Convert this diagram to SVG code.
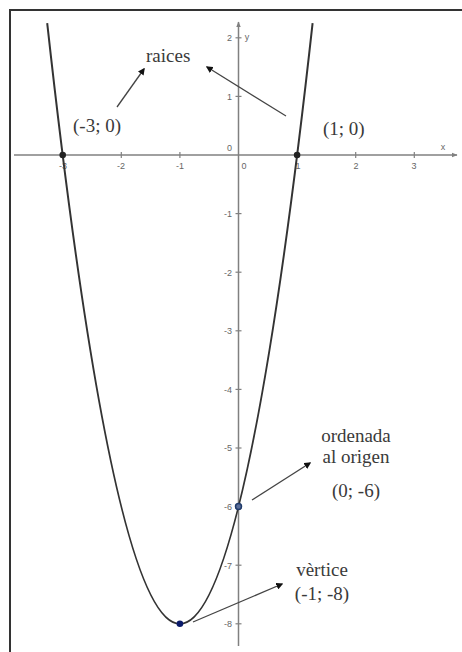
<svg xmlns="http://www.w3.org/2000/svg" width="462" height="652" viewBox="0 0 462 652">
<defs>
<style>
.frame{fill:none;stroke:#333;stroke-width:2}
.axis{stroke:#808080;stroke-width:1.5;fill:none}
.tick{stroke:#808080;stroke-width:1.2}
.tl{font-family:"Liberation Sans",Arial,sans-serif;font-size:9px;fill:#666}
.lbl{font-family:'Liberation Serif','Times New Roman','DejaVu Serif',serif;font-size:19px;fill:#3a3a3a}
.curve{fill:none;stroke:#333;stroke-width:2}
.conn{stroke:#444;stroke-width:1.3;fill:none;marker-end:url(#ah)}
</style>
<marker id="ah" viewBox="0 0 10 10" refX="8" refY="5" markerWidth="7" markerHeight="7" markerUnits="userSpaceOnUse" orient="auto">
<path d="M0,0 L10,5 L0,10 z" fill="#111"/>
</marker>
<marker id="axh" viewBox="0 0 10 10" refX="9" refY="5" markerWidth="6" markerHeight="6" markerUnits="userSpaceOnUse" orient="auto">
<path d="M0,1 L10,5 L0,9 z" fill="#808080"/>
</marker>
</defs>
<rect width="462" height="652" fill="#fff"/>
<path class="frame" d="M10,652 L10,10 L462,10"/>
<g id="axes">
<line class="axis" x1="14" y1="155" x2="457" y2="155" marker-end="url(#axh)"/>
<line class="axis" x1="238.5" y1="646" x2="238.5" y2="22" marker-end="url(#axh)"/>
<g class="tick">
<line x1="62.7" y1="152" x2="62.7" y2="158"/>
<line x1="121.3" y1="152" x2="121.3" y2="158"/>
<line x1="179.9" y1="152" x2="179.9" y2="158"/>
<line x1="297.1" y1="152" x2="297.1" y2="158"/>
<line x1="355.7" y1="152" x2="355.7" y2="158"/>
<line x1="414.3" y1="152" x2="414.3" y2="158"/>
<line x1="235.5" y1="37.8" x2="241.5" y2="37.8"/>
<line x1="235.5" y1="96.4" x2="241.5" y2="96.4"/>
<line x1="235.5" y1="213.6" x2="241.5" y2="213.6"/>
<line x1="235.5" y1="272.2" x2="241.5" y2="272.2"/>
<line x1="235.5" y1="330.8" x2="241.5" y2="330.8"/>
<line x1="235.5" y1="389.4" x2="241.5" y2="389.4"/>
<line x1="235.5" y1="448" x2="241.5" y2="448"/>
<line x1="235.5" y1="506.6" x2="241.5" y2="506.6"/>
<line x1="235.5" y1="565.2" x2="241.5" y2="565.2"/>
<line x1="235.5" y1="623.8" x2="241.5" y2="623.8"/>
</g>
<g class="tl" text-anchor="middle">
<text x="63" y="169">-3</text>
<text x="121" y="169">-2</text>
<text x="180" y="169">-1</text>
<text x="244" y="169">0</text>
<text x="298" y="169">1</text>
<text x="356" y="169">2</text>
<text x="414" y="169">3</text>
<text x="443" y="150">x</text>
<text x="247" y="40">y</text>
</g>
<g class="tl" text-anchor="end">
<text x="232" y="41">2</text>
<text x="232" y="100">1</text>
<text x="232" y="151">0</text>
<text x="232" y="217">-1</text>
<text x="232" y="276">-2</text>
<text x="232" y="334">-3</text>
<text x="232" y="393">-4</text>
<text x="232" y="451">-5</text>
<text x="232" y="510">-6</text>
<text x="232" y="569">-7</text>
<text x="232" y="627">-8</text>
</g>
</g>
<g id="parabola">
<path class="curve" d="M47.2,23.15 Q179.9,1224.5 312.6,23.15"/>
</g>
<g id="connectors">
<line class="conn" x1="117" y1="107" x2="144" y2="69"/>
<line class="conn" x1="286" y1="116" x2="207" y2="67"/>
<line class="conn" x1="252" y1="500" x2="310" y2="463"/>
<line class="conn" x1="193" y1="622" x2="282" y2="584"/>
</g>
<g id="root1">
<circle cx="62.7" cy="155" r="3.3" fill="#222"/>
<text class="lbl" x="73" y="132">(-3; 0)</text>
</g>
<g id="root2">
<circle cx="297.1" cy="155" r="3.3" fill="#222"/>
<text class="lbl" x="323" y="135">(1; 0)</text>
</g>
<g id="raices">
<text class="lbl" x="146" y="62">raices</text>
</g>
<g id="intercept">
<circle cx="238.5" cy="506.6" r="3" fill="#5a6e99" stroke="#1f3a6a" stroke-width="1.5"/>
<text class="lbl" x="356" y="442" text-anchor="middle">ordenada</text>
<text class="lbl" x="356" y="463" text-anchor="middle">al origen</text>
<text class="lbl" x="356" y="497" text-anchor="middle">(0; -6)</text>
</g>
<g id="vertex">
<circle cx="179.9" cy="623.8" r="3.3" fill="#0a1a6a"/>
<text class="lbl" x="322" y="576" text-anchor="middle">vèrtice</text>
<text class="lbl" x="322" y="600" text-anchor="middle">(-1; -8)</text>
</g>
</svg>
